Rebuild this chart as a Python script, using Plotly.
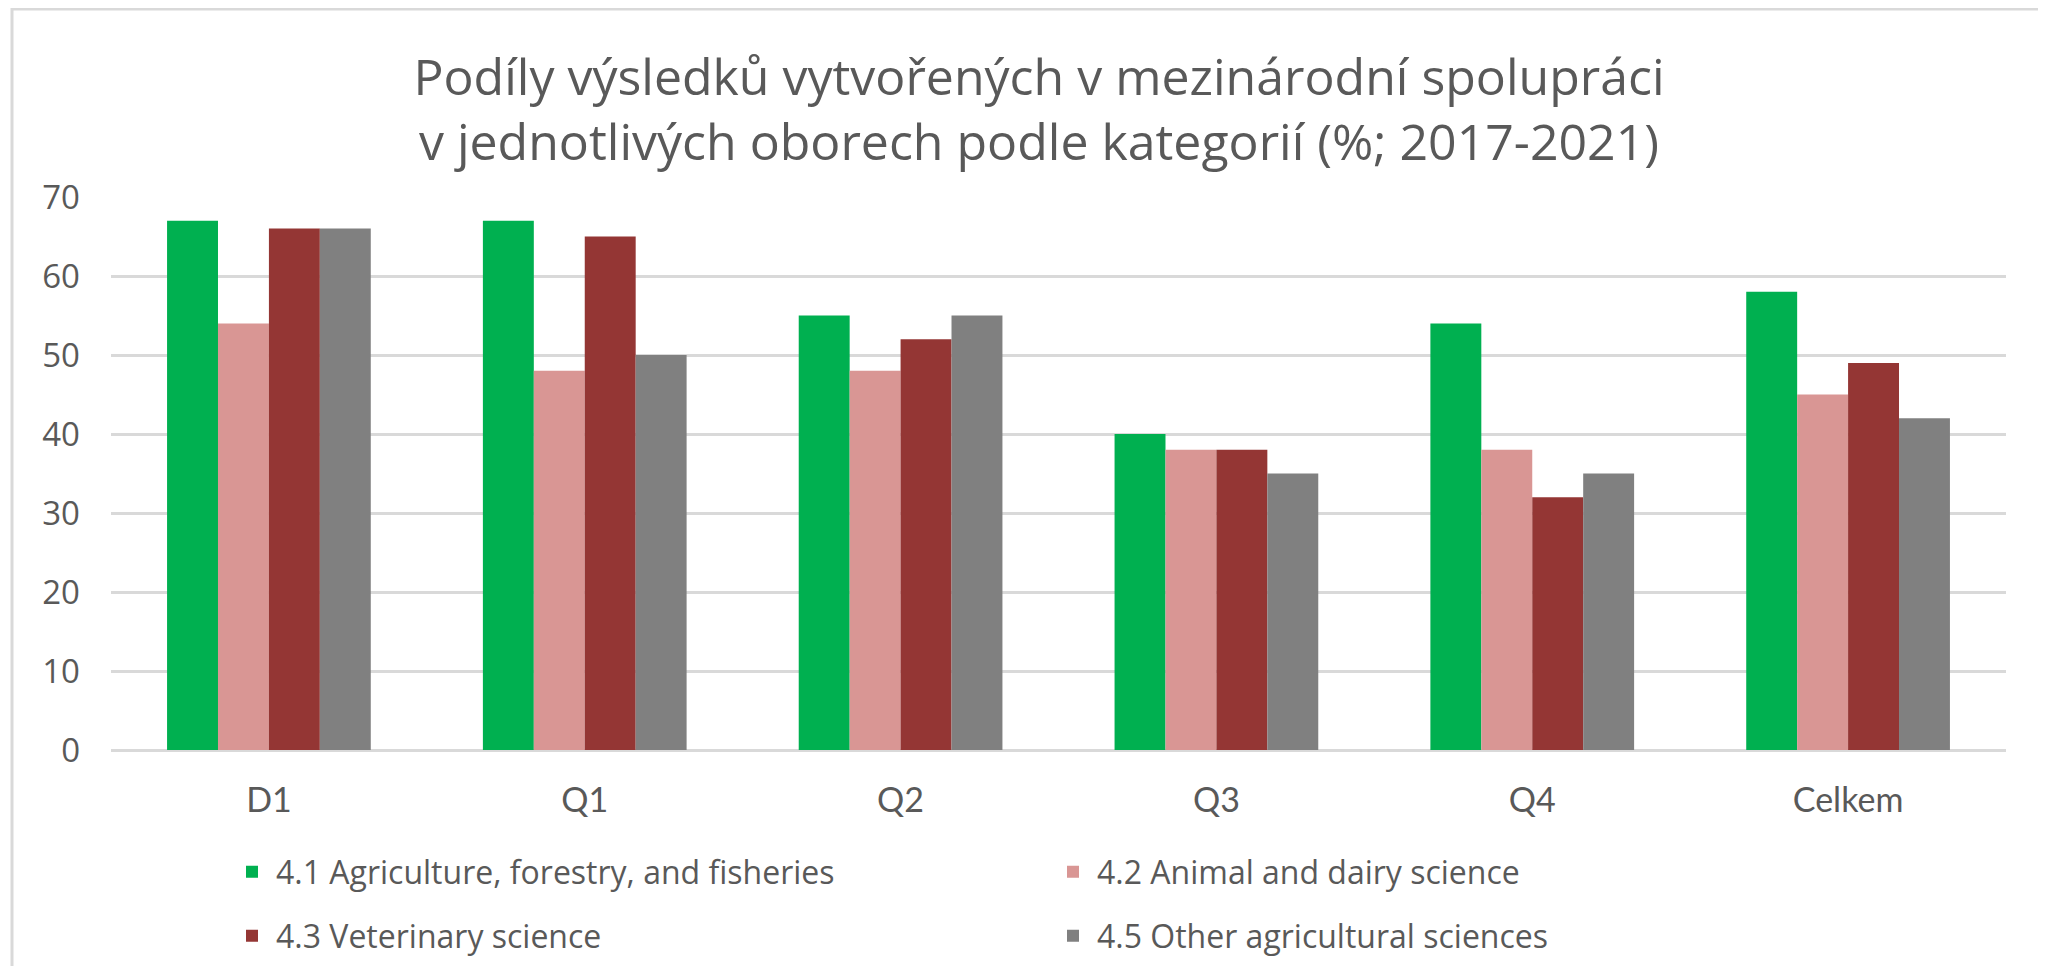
import plotly.graph_objects as go

# ---------------------------------------------------------------
# Data
# ---------------------------------------------------------------
categories = ["D1", "Q1", "Q2", "Q3", "Q4", "Celkem"]

agri_forestry = [67, 67, 55, 40, 54, 58]
animal_dairy = [54, 48, 48, 38, 38, 45]
veterinary = [66, 65, 52, 38, 32, 49]
other_agri = [66, 50, 55, 35, 35, 42]

series_names = [
    "4.1 Agriculture, forestry, and fisheries",
    "4.2 Animal and dairy science",
    "4.3 Veterinary science",
    "4.5 Other agricultural sciences",
]

y_ticks = [0, 10, 20, 30, 40, 50, 60, 70]

# ---------------------------------------------------------------
# Style
# ---------------------------------------------------------------
colors = {"green": "#00B050", "pink": "#D99694", "red": "#943634", "grey": "#808080"}
text_col = "#595959"
grid_col = "#D9D9D9"

# page body has an 8px margin, so the figure is 8px smaller than the window
W, H = 2038, 958
L, R, T, B = 103, 40, 189, 216
plot_w = W - L - R
plot_h = H - T - B
bottom = H - B  # y pixel of the zero line

fig = go.Figure()

series = [
    (series_names[0], agri_forestry, colors["green"], "legend"),
    (series_names[1], animal_dairy, colors["pink"], "legend"),
    (series_names[2], veterinary, colors["red"], "legend2"),
    (series_names[3], other_agri, colors["grey"], "legend2"),
]

for name, vals, col, leg in series:
    fig.add_trace(go.Bar(
        x=categories, y=vals, name=name, legend=leg,
        marker=dict(color=col, line=dict(width=0)),
        hoverinfo="x+y+name",
    ))

legend_style = dict(
    orientation="h",
    font=dict(family="Open Sans", size=32, color=text_col),
    bgcolor="rgba(0,0,0,0)",
    entrywidth=768, entrywidthmode="pixels",
    itemwidth=38,
    xanchor="left", yanchor="middle",
    x=(220 - L) / plot_w,
)

fig.update_layout(
    width=W, height=H,
    margin=dict(l=L, r=R, t=T, b=B, autoexpand=False),
    plot_bgcolor="white", paper_bgcolor="white",
    barmode="group", bargap=0.355, bargroupgap=0,
    title=dict(
        text="Podíly výsledků vytvořených v mezinárodní spolupráci<br>v jednotlivých oborech podle kategorií (%; 2017-2021)",
        x=1031 / W, xanchor="center", xref="container",
        y=1 - 87 / H, yanchor="middle",
        font=dict(family="Open Sans", size=50, color=text_col),
    ),
    xaxis=dict(
        showgrid=False, showline=False, ticks="",
        tickfont=dict(family="Lato", size=34, color=text_col),
        ticklabelstandoff=27,
    ),
    yaxis=dict(
        range=[0, 70], tickvals=y_ticks,
        showgrid=True, gridcolor=grid_col, gridwidth=3,
        zeroline=True, zerolinecolor=grid_col, zerolinewidth=3,
        showline=False, ticks="",
        tickfont=dict(family="Open Sans", size=33, color=text_col),
        ticklabelstandoff=30,
    ),
    legend=dict(**legend_style, y=-122 / plot_h),
    legend2=dict(**legend_style, y=-186 / plot_h),
)

# outer chart frame (left and top edges visible in the picture)
fig.add_shape(
    type="rect", xref="paper", yref="paper",
    x0=(4 - L) / plot_w, x1=(W + 20 - L) / plot_w,
    y0=-(H + 20 - bottom) / plot_h, y1=(bottom - 1) / plot_h,
    line=dict(color=grid_col, width=3), fillcolor="rgba(0,0,0,0)",
    layer="below",
)

fig.write_html("out.html")
